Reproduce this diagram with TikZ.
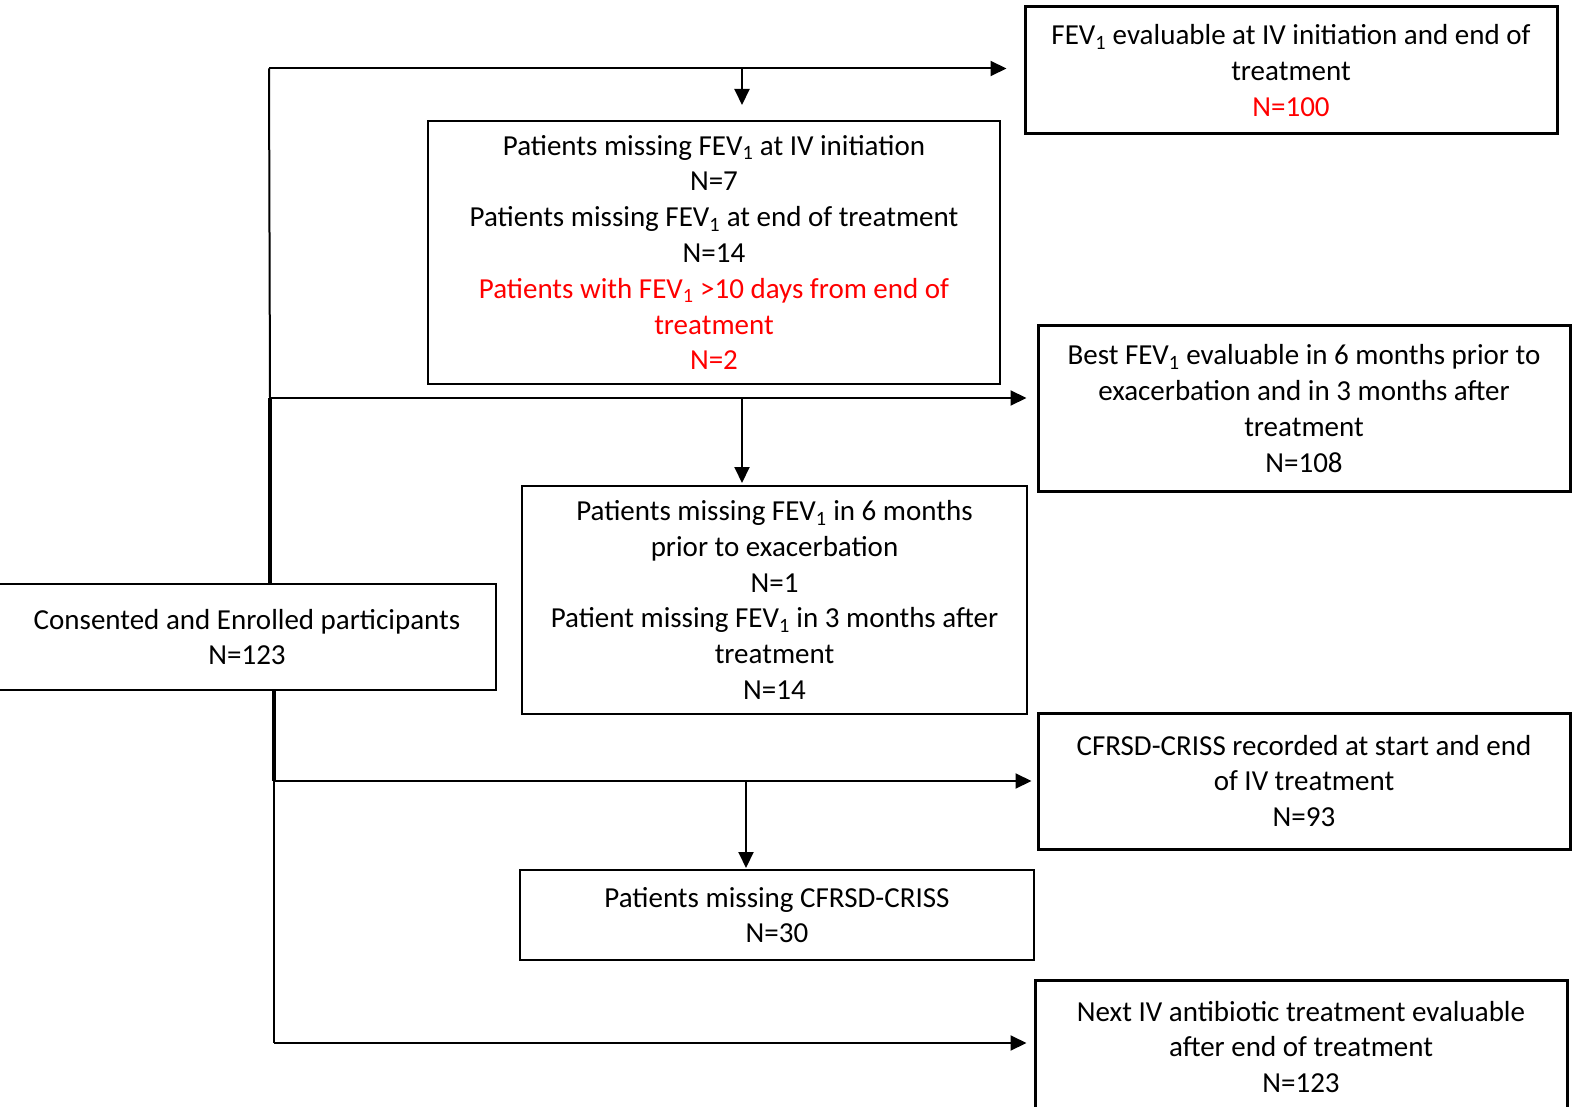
\documentclass[tikz,border=0pt]{standalone}
\usepackage{fontspec}
\setmainfont{Carlito}
\usetikzlibrary{arrows.meta}

\tikzset{
  box/.style={draw, line width=2pt, align=center, inner sep=0pt,
    font=\fontsize{29}{35.8}\selectfont},
  outbox/.style={box, line width=3pt},
  link/.style={line width=2pt, -{Triangle[length=16pt,width=15pt]}},
  trunk/.style={line width=3.5pt},
}
\newcommand{\fevone}{FEV\textsubscript{1}}

\begin{document}
\begin{tikzpicture}[x=1pt,y=-1pt]
\useasboundingbox (0,0) rectangle (1580,1107);

% boxes
\node[box, minimum width=498pt, minimum height=106pt] (enrol) at (247,637)
  {Consented and Enrolled participants\\N=123};

\node[outbox, minimum width=532pt, minimum height=127pt] (evalIV) at (1291,70.5)
  {\fevone{} evaluable at IV initiation and end of\\treatment\\\textcolor{red}{N=100}};
\node[box, minimum width=572pt, minimum height=263pt] (missIV) at (714,252.5)
  {Patients missing \fevone{} at IV initiation\\N=7\\
   Patients missing \fevone{} at end of treatment\\N=14\\
   \textcolor{red}{Patients with \fevone{} >10 days from end of}\\
   \textcolor{red}{treatment}\\\textcolor{red}{N=2}};

\node[outbox, minimum width=532pt, minimum height=165pt] (best) at (1304,408.5)
  {Best \fevone{} evaluable in 6 months prior to\\exacerbation and in 3 months after\\treatment\\N=108};
\node[box, minimum width=505pt, minimum height=228pt] (miss6) at (774.5,600)
  {Patients missing \fevone{} in 6 months\\prior to exacerbation\\N=1\\
   Patient missing \fevone{} in 3 months after\\treatment\\N=14};

\node[outbox, minimum width=532pt, minimum height=136pt] (cfrsd) at (1304,781)
  {CFRSD-CRISS recorded at start and end\\of IV treatment\\N=93};
\node[box, minimum width=514pt, minimum height=90pt] (missC) at (777,915)
  {Patients missing CFRSD-CRISS\\N=30};

\node[outbox, minimum width=532pt, minimum height=134pt] (nextIV) at (1301,1047)
  {Next IV antibiotic treatment evaluable\\after end of treatment\\N=123};

% connectors
\coordinate (top) at (269,68.5);
\coordinate (mid) at (270,398);
\coordinate (low1) at (274,781);
\coordinate (low2) at (274,1043);
\coordinate (sIV) at (742,68.5);
\coordinate (sBest) at (742,398);
\coordinate (sC) at (746,781);

\draw[line width=2pt] (top) -- (mid);
\draw[trunk] (mid) -- (enrol.north -| mid);
\draw[trunk] (enrol.south -| low1) -- (low1);
\draw[line width=2pt] (low1) -- (low2);

\draw[link, shorten >=17pt] (top) -- (evalIV.west |- top);
\draw[link, shorten >=15pt] (sIV) -- (sIV |- missIV.north);
\draw[link, shorten >=10pt] (mid) -- (best.west |- mid);
\draw[link, shorten >=2pt] (sBest) -- (sBest |- miss6.north);
\draw[link, shorten >=5pt] (low1) -- (cfrsd.west |- low1);
\draw[link, shorten >=1pt] (sC) -- (sC |- missC.north);
\draw[link, shorten >=7pt] (low2) -- (nextIV.west |- low2);
\end{tikzpicture}
\end{document}
